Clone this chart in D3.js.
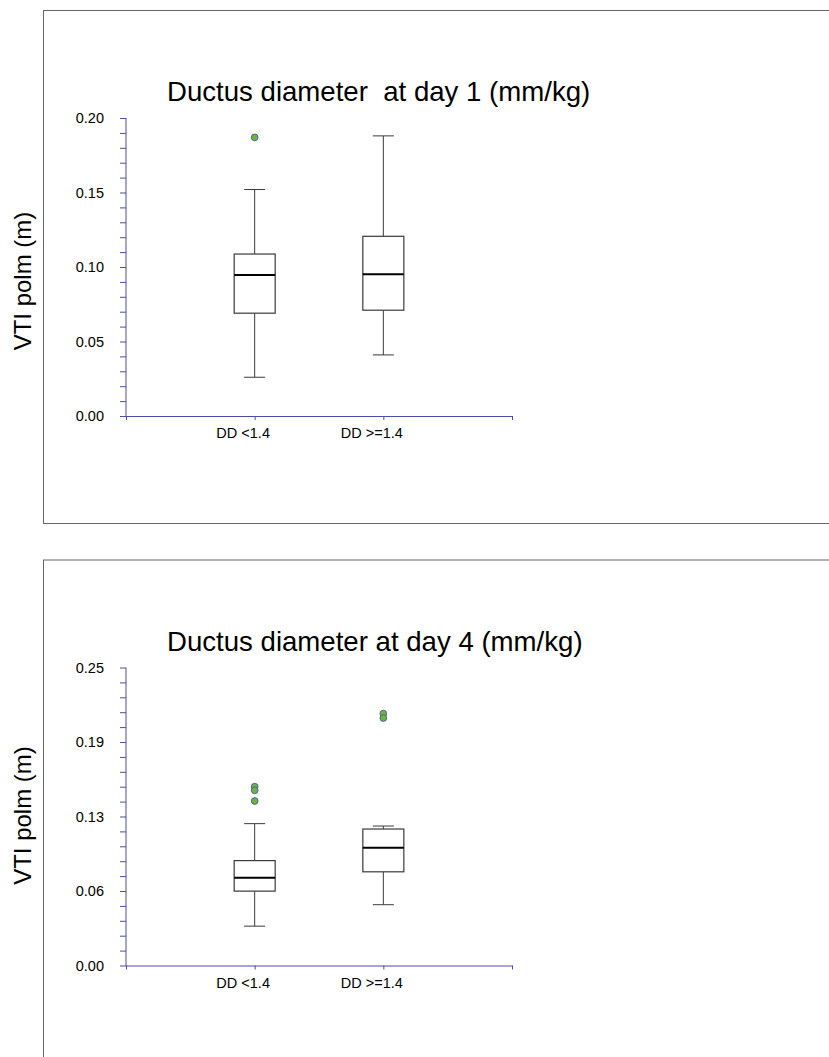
<!DOCTYPE html>
<html>
<head>
    <title>VTI polm by ductus diameter</title>
    <script src="https://d3js.org/d3.v7.min.js"></script>
    <style>
        body { margin: 0; background: #fff; }
        text { font-family: "Liberation Sans", Arial, sans-serif; }
    </style>
</head>
<body>
<script>
    var width = 829, height = 1057;

    var categories = ["DD <1.4", "DD >=1.4"];

    // day 1 boxes
    var day1Min = [0.026, 0.041];
    var day1Q1 = [0.069, 0.071];
    var day1Median = [0.0946, 0.0951];
    var day1Q3 = [0.1087, 0.1206];
    var day1Max = [0.152, 0.188];
    var day1Outliers = [[0.187], []];
    var day1Ticks = [0, 0.05, 0.10, 0.15, 0.20];
    var day1TickLabels = ["0.00", "0.05", "0.10", "0.15", "0.20"];

    // day 4 boxes
    var day4Min = [0.033, 0.051];
    var day4Q1 = [0.0624, 0.0786];
    var day4Median = [0.0736, 0.0987];
    var day4Q3 = [0.088, 0.1145];
    var day4Max = [0.119, 0.117];
    var day4Outliers = [[0.150, 0.147, 0.138], [0.2113, 0.2076]];
    var day4Ticks = [0, 0.0625, 0.125, 0.1875, 0.25];
    var day4TickLabels = ["0.00", "0.06", "0.13", "0.19", "0.25"];

    var svg = d3.select("body").append("svg")
        .attr("width", width)
        .attr("height", height);

    var axisColor = "#4a4fa3";

    function drawPanel(opt) {
        var g = svg.append("g").attr("transform", "translate(0," + opt.top + ")");

        // frame around the panel
        g.append("rect")
            .attr("x", 43.5).attr("y", 10.5)
            .attr("width", 900).attr("height", opt.frameHeight)
            .attr("fill", "none").attr("stroke", "#666").attr("stroke-width", 1);

        g.append("text")
            .attr("x", 167).attr("y", 101)
            .attr("font-size", "27.6px")
            .attr("fill", "#000")
            .style("white-space", "pre")
            .text(opt.title);

        g.append("text")
            .attr("transform", "translate(31," + opt.labelY + ") rotate(-90)")
            .attr("text-anchor", "middle")
            .attr("font-size", "24px")
            .text("VTI polm (m)");

        var x = d3.scaleLinear().domain([0, 3]).range([126, 512]);
        var y = d3.scaleLinear().domain([0, opt.ticks[opt.ticks.length - 1]]).range([416, 118]);

        // minor ticks: 4 between each pair of majors
        var step = opt.ticks[1] - opt.ticks[0];
        var minor = d3.range(0, opt.ticks[opt.ticks.length - 1] + step / 10, step / 5);

        var yAxis = g.append("g").attr("transform", "translate(126,0)")
            .call(d3.axisLeft(y).tickValues(minor).tickSize(6).tickFormat(""));
        yAxis.select(".domain").attr("stroke", axisColor).attr("d", "M0,416.5V118");
        yAxis.selectAll(".tick line").attr("stroke", axisColor);

        var yLabels = g.append("g").attr("transform", "translate(126,0)")
            .call(d3.axisLeft(y).tickValues(opt.ticks).tickSize(0).tickPadding(22)
                .tickFormat(function(d, i) { return opt.tickLabels[i]; }));
        yLabels.select(".domain").remove();
        yLabels.selectAll("text")
            .attr("font-family", "Liberation Sans, Arial, sans-serif")
            .attr("font-size", "14.5px").attr("fill", "#000");

        var xAxis = g.append("g").attr("transform", "translate(0,416)")
            .call(d3.axisBottom(x).tickValues([0, 1, 2, 3]).tickSize(4)
                .tickFormat(function(d) { return categories[d - 1] || ""; }));
        xAxis.select(".domain").attr("stroke", axisColor).attr("d", "M126,0.5H512.5");
        xAxis.selectAll(".tick line").attr("stroke", axisColor);
        xAxis.selectAll("text")
            .attr("font-family", "Liberation Sans, Arial, sans-serif")
            .attr("font-size", "14.5px").attr("fill", "#000")
            .attr("dx", -12).attr("dy", "1.05em");

        var boxW = 41, capW = 21;
        var stats = categories.map(function(c, i) {
            return { i: i + 1, min: opt.min[i], q1: opt.q1[i], med: opt.median[i],
                     q3: opt.q3[i], max: opt.max[i], out: opt.outliers[i] };
        });

        var box = g.selectAll(".box").data(stats).enter().append("g");
        var lineColor = "#3a3a3a";

        box.append("line")
            .attr("x1", function(d) { return x(d.i); }).attr("x2", function(d) { return x(d.i); })
            .attr("y1", function(d) { return y(d.min); }).attr("y2", function(d) { return y(d.q1); })
            .attr("stroke", lineColor);
        box.append("line")
            .attr("x1", function(d) { return x(d.i); }).attr("x2", function(d) { return x(d.i); })
            .attr("y1", function(d) { return y(d.q3); }).attr("y2", function(d) { return y(d.max); })
            .attr("stroke", lineColor);
        ["min", "max"].forEach(function(k) {
            box.append("line")
                .attr("x1", function(d) { return x(d.i) - capW / 2; })
                .attr("x2", function(d) { return x(d.i) + capW / 2; })
                .attr("y1", function(d) { return y(d[k]); }).attr("y2", function(d) { return y(d[k]); })
                .attr("stroke", lineColor);
        });
        box.append("rect")
            .attr("x", function(d) { return x(d.i) - boxW / 2; })
            .attr("width", boxW)
            .attr("y", function(d) { return y(d.q3); })
            .attr("height", function(d) { return y(d.q1) - y(d.q3); })
            .attr("fill", "#fff").attr("stroke", lineColor).attr("stroke-width", 1.2);
        box.append("line")
            .attr("x1", function(d) { return x(d.i) - boxW / 2; })
            .attr("x2", function(d) { return x(d.i) + boxW / 2; })
            .attr("y1", function(d) { return y(d.med); }).attr("y2", function(d) { return y(d.med); })
            .attr("stroke", "#000").attr("stroke-width", 2);

        box.selectAll("circle")
            .data(function(d) { return d.out.map(function(v) { return { i: d.i, v: v }; }); })
            .enter().append("circle")
            .attr("cx", function(d) { return x(d.i); })
            .attr("cy", function(d) { return y(d.v); })
            .attr("r", 3.4)
            .attr("fill", "#6cb43c").attr("stroke", "#4a5aa8").attr("stroke-width", 0.9);
    }

    drawPanel({
        top: 0, frameHeight: 513, labelY: 281,
        title: "Ductus diameter  at day 1 (mm/kg)",
        min: day1Min, q1: day1Q1, median: day1Median, q3: day1Q3, max: day1Max,
        outliers: day1Outliers, ticks: day1Ticks, tickLabels: day1TickLabels
    });

    drawPanel({
        top: 549.5, frameHeight: 600, labelY: 266,
        title: "Ductus diameter at day 4 (mm/kg)",
        min: day4Min, q1: day4Q1, median: day4Median, q3: day4Q3, max: day4Max,
        outliers: day4Outliers, ticks: day4Ticks, tickLabels: day4TickLabels
    });
</script>
</body>
</html>
